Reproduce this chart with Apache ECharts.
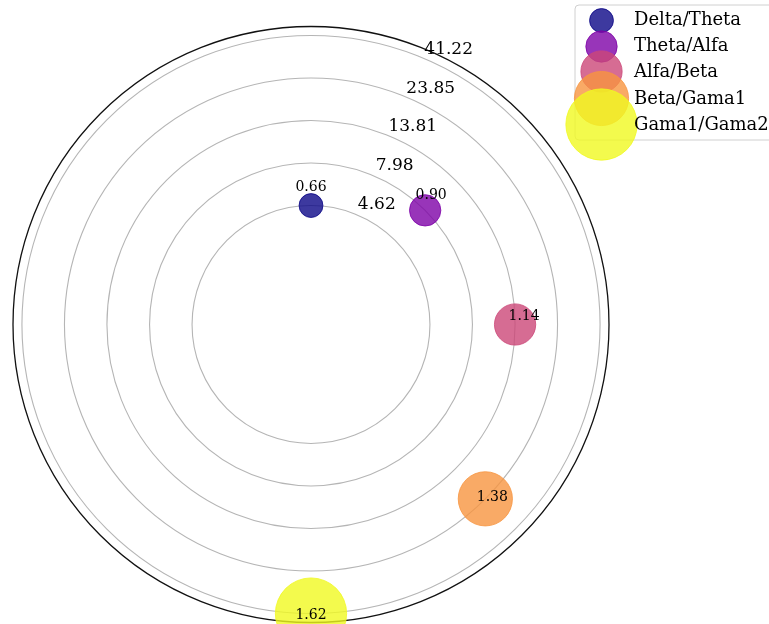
<!DOCTYPE html>
<html>
<head>
<meta charset="utf-8">
<script src="https://cdn.jsdelivr.net/npm/echarts@6/dist/echarts.min.js"></script>
<style>html,body{margin:0;padding:0;background:#fff}#chart{width:769px;height:624px}</style>
</head>
<body>
<div id="chart"></div>
<script>
// ---- data ----
const categories = ['Delta/Theta', 'Theta/Alfa', 'Alfa/Beta', 'Beta/Gama1', 'Gama1/Gama2'];
const ratioValues = [0.6646, 0.9020, 1.1402, 1.3775, 1.6151];   // radial value (log10 of ratio)
const angleValues = [0, 45, 90, 135, 180];                        // degrees, clockwise from north
const pointLabels = ['0.66', '0.90', '1.14', '1.38', '1.62'];
const tickValues = [0.6646, 0.9020, 1.1402, 1.3775, 1.6151];
const tickLabels = ['4.62', '7.98', '13.81', '23.85', '41.22'];

// ---- styles ----
const colors = ['#0d0887', '#7e03a8', '#cc4778', '#f89540', '#f0f921'];
const labelOffsets = [[0, -18], [6, -15], [9, -8.5], [7, -1.5], [0, 1.5]];
const legendCenters = [20, 46, 71, 98, 124];
const legendTextCenters = [20.5, 46, 72, 99, 125];
const FONT = 'DejaVu Serif';
const TEXT = '#000000';
const sizeOf = v => 11.1 * Math.sqrt(Math.pow(10, v));

const chart = echarts.init(document.getElementById('chart'), null, {renderer: 'canvas'});

const series = categories.map((name, i) => ({
  name: name,
  type: 'scatter',
  coordinateSystem: 'polar',
  symbol: 'circle',
  symbolSize: sizeOf(ratioValues[i]),
  z: 3 + i,
  itemStyle: {color: colors[i], opacity: 0.8, borderColor: colors[i], borderWidth: 1},
  label: {
    show: true,
    position: 'inside',
    offset: labelOffsets[i],
    formatter: () => pointLabels[i],
    fontFamily: FONT,
    fontSize: 14,
    color: TEXT,
    opacity: 1,
    textBorderWidth: 0
  },
  emphasis: {disabled: true},
  data: [[ratioValues[i], angleValues[i]]]
}));

// radial tick labels, placed through the polar scale
series.push({
  name: 'rticks',
  type: 'scatter',
  coordinateSystem: 'polar',
  symbolSize: 0,
  silent: true,
  z: 2,
  label: {
    show: true,
    position: 'inside',
    offset: [15.5, -12.5],
    formatter: p => tickLabels[p.dataIndex],
    fontFamily: FONT,
    fontSize: 17,
    color: TEXT,
    opacity: 1,
    textBorderWidth: 0
  },
  data: tickValues.map(v => [v, 25])
});

const legends = [];
// marker legends (one per item, for varying marker size)
categories.forEach((name, i) => {
  const d = sizeOf(ratioValues[i]);
  legends.push({
    left: 601 - d / 2,
    top: legendCenters[i] - d / 2,
    orient: 'vertical',
    itemWidth: d,
    itemHeight: d,
    padding: 0,
    z: 5 + i,
    selectedMode: false,
    formatter: () => '',
    data: [{name: name, icon: 'circle', itemStyle: {color: colors[i], opacity: 0.8, borderColor: colors[i], borderWidth: 1}}]
  });
});
// text legends
categories.forEach((name, i) => {
  legends.push({
    left: 619,
    top: legendTextCenters[i] - 13,
    orient: 'vertical',
    itemWidth: 10,
    itemHeight: 26,
    padding: 0,
    z: 12,
    selectedMode: false,
    data: [{name: name, icon: 'none'}],
    textStyle: {fontFamily: FONT, fontSize: 18, lineHeight: 26, color: TEXT}
  });
});

const option = {
  backgroundColor: '#ffffff',
  animation: false,
  polar: {center: [311, 324.5], radius: 298},
  angleAxis: {
    type: 'value', min: 0, max: 360, startAngle: 90, clockwise: true,
    axisLine: {show: true, lineStyle: {color: '#111', width: 1.3}},
    axisTick: {show: false}, axisLabel: {show: false}, splitLine: {show: false}
  },
  radiusAxis: {
    type: 'value', min: 0, max: 1.665,
    axisLine: {show: false},
    axisTick: {show: false, customValues: tickValues},
    axisLabel: {show: false, customValues: tickValues},
    splitLine: {show: true, lineStyle: {color: '#b5b5b5', width: 1.1}}
  },
  graphic: [{
    type: 'rect', z: 3,
    shape: {x: 575, y: 5, width: 210, height: 135, r: 4},
    style: {fill: 'rgba(255,255,255,0.8)', stroke: '#d0d0d0', lineWidth: 1}
  }],
  legend: legends,
  series: series
};
chart.setOption(option);
</script>
</body>
</html>
